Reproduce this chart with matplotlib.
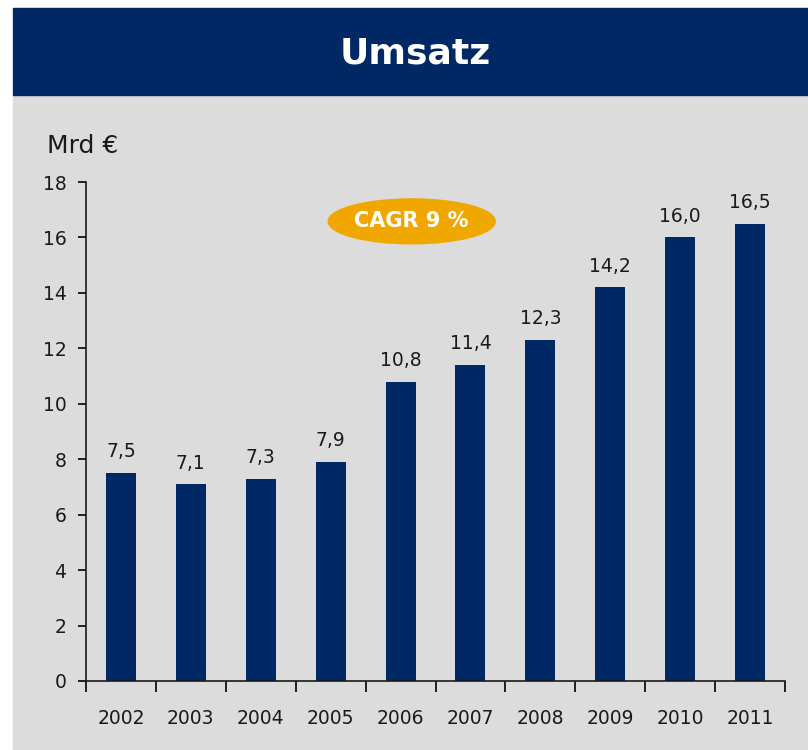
import numpy as np
import matplotlib
matplotlib.use('Agg')
import matplotlib.pyplot as plt
from matplotlib.patches import Rectangle, Ellipse

years = ['2002', '2003', '2004', '2005', '2006', '2007', '2008', '2009', '2010', '2011']
umsatz = [7.5, 7.1, 7.3, 7.9, 10.8, 11.4, 12.3, 14.2, 16.0, 16.5]
y_ticks = [0, 2, 4, 6, 8, 10, 12, 14, 16, 18]

NAVY = '#002864'
GRAY = '#dcdcdc'
ORANGE = '#f0a800'

plt.rcParams['font.family'] = ['DejaVu Sans']

W, H = 808, 750
fig = plt.figure(figsize=(W / 100, H / 100), dpi=100)
fig.patch.set_facecolor('white')

# header band and grey panel (figure pixel coords -> fractions)
fig.patches.append(Rectangle((13 / W, 0), 1 - 13 / W, 1 - 95 / H,
                             transform=fig.transFigure, color=GRAY, zorder=-2))
fig.patches.append(Rectangle((13 / W, 1 - 95 / H), 1 - 13 / W, 87 / H,
                             transform=fig.transFigure, color=NAVY, zorder=-1))
fig.text(415 / W, 1 - 54 / H, 'Umsatz', color='white',
         fontsize=26, fontweight='bold', ha='center', va='center')

ax = fig.add_axes([86 / W, 1 - 681 / H, (785 - 86) / W, (681 - 182) / H])
ax.set_facecolor('none')

x = np.arange(len(years))
ax.bar(x, umsatz, width=0.43, color=NAVY, zorder=2)
for xi, v in zip(x, umsatz):
    ax.text(xi, v + 0.42, ('%.1f' % v).replace('.', ','), ha='center',
            va='bottom', fontsize=13.5, color='#1a1a1a')

ax.set_xlim(-0.5, len(years) - 0.5)
ax.set_ylim(0, 18)
ax.set_yticks(y_ticks)
ax.set_yticklabels([str(t) for t in y_ticks], fontsize=13.5, color='#1a1a1a')

# boundary ticks without labels, labels at bar centres
ax.set_xticks(np.arange(-0.5, len(years)), minor=False)
ax.set_xticklabels([])
ax.set_xticks(x, minor=True)
ax.set_xticklabels(years, minor=True, fontsize=13.5, color='#1a1a1a')
ax.tick_params(axis='x', which='major', length=8, width=1.2, direction='out')
ax.tick_params(axis='x', which='minor', length=0, pad=20)
ax.tick_params(axis='y', length=6, width=1.2, direction='out', pad=8)

for s in ['top', 'right']:
    ax.spines[s].set_visible(False)
for s in ['left', 'bottom']:
    ax.spines[s].set_linewidth(1.2)
    ax.spines[s].set_color('#1a1a1a')

fig.text(47 / W, 1 - 146 / H, 'Mrd €', fontsize=18, ha='left', va='center',
         color='#1a1a1a')

# CAGR badge
ax.add_patch(Ellipse((4.16, 16.58), 2.39, 1.62, color=ORANGE, clip_on=False,
                     zorder=3))
ax.text(4.16, 16.58, 'CAGR 9 %', ha='center', va='center', color='white',
        fontsize=15, fontweight='bold', zorder=4)

fig.savefig('out.png', dpi=100)
